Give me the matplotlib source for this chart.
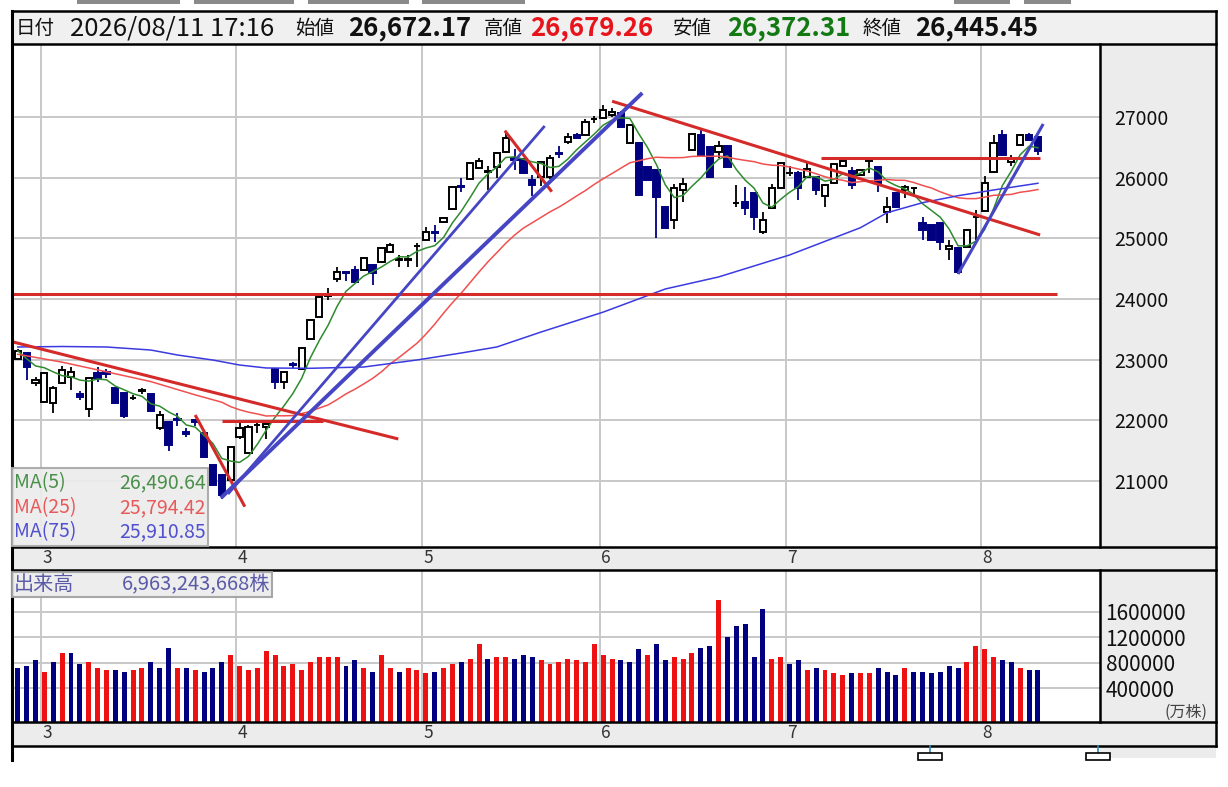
import matplotlib
matplotlib.use('Agg')
import matplotlib.pyplot as plt
from matplotlib.patches import Rectangle
from matplotlib.lines import Line2D
from matplotlib.transforms import blended_transform_factory
import pandas as pd

plt.rcParams['font.family'] = ['Noto Sans CJK JP', 'DejaVu Sans']

W, H = 1228, 787

# ---------------- data ----------------
opens = [23007, 23110, 22610, 22308, 22282, 22612, 22720, 22430, 22183, 22787,
         22790, 22530, 22447, 22365, 22485, 22435, 21870, 21979, 22020, 21810,
         22010, 21788, 21265, 21100, 21010, 21732, 21457, 21920, 21896, 22843,
         22638, 22930, 22842, 23337, 23709, 24050, 24326, 24440, 24479, 24479,
         24562, 24616, 24781, 24650, 24650, 24870, 24973, 25110, 25275, 25479,
         25870, 25974, 26165, 26099, 26181, 26428, 26330, 26300, 25962, 26016,
         26016, 26400, 26593, 26703, 26703, 26967, 26978, 27033, 27061, 26567,
         26567, 26181, 26127, 25522, 25303, 25797, 26456, 26703, 26511, 26428,
         26527, 25577, 25604, 25742, 25110, 25495, 25825, 26072, 26083, 26016,
         26016, 25699, 25918, 26193, 26110, 26045, 26280, 26181, 25440, 25742,
         25797, 25825, 25248, 25220, 25248, 24830, 24836, 24863, 25347, 25456,
         26099, 26703, 26264, 26539, 26703, 26672.17]
highs = [23180, 23130, 22720, 22800, 22560, 22897, 22885, 22480, 22720, 22880,
         22850, 22540, 22460, 22420, 22540, 22440, 22150, 21990, 22130, 21870,
         22030, 21800, 21270, 21110, 21580, 21960, 21920, 21960, 21960, 22860,
         22820, 22960, 23200, 23670, 24050, 24180, 24520, 24450, 24540, 24690,
         24580, 24850, 24920, 24720, 24720, 24920, 25190, 25220, 25360, 25870,
         25990, 26250, 26330, 26190, 26430, 26760, 26480, 26330, 26040, 26280,
         26380, 26520, 26730, 26730, 26960, 27020, 27200, 27150, 27100, 26890,
         26580, 26200, 26140, 25530, 25900, 26000, 26730, 26790, 26520, 26600,
         26540, 25880, 25850, 25750, 25440, 25900, 26250, 26190, 26110, 26260,
         26030, 25900, 26240, 26300, 26180, 26150, 26340, 26190, 25680, 25750,
         25880, 25850, 25360, 25230, 25260, 24970, 24850, 25160, 25470, 26020,
         26700, 26780, 26380, 26720, 26730, 26679.26]
lows = [22990, 22666, 22560, 22290, 22127, 22600, 22500, 22330, 22051, 22640,
        22700, 22270, 22040, 22330, 22440, 22150, 21850, 21490, 21900, 21720,
        21900, 21400, 20930, 20700, 20990, 21700, 21440, 21800, 21700, 22520,
        22510, 22870, 22830, 23320, 23700, 23980, 24280, 24300, 24280, 24460,
        24230, 24600, 24770, 24530, 24530, 24520, 24960, 24940, 25260, 25460,
        25770, 25960, 26150, 25790, 26000, 26410, 26120, 26060, 25700, 25860,
        25980, 26320, 26560, 26630, 26690, 26900, 26960, 27000, 26830, 26560,
        25700, 25950, 25001, 25170, 25150, 25600, 26440, 26370, 26000, 26330,
        26170, 25520, 25380, 25130, 25080, 25480, 25810, 26020, 25630, 26000,
        25715, 25510, 25900, 26180, 25820, 26030, 26070, 25770, 25260, 25500,
        25660, 25680, 24970, 24960, 24808, 24644, 24408, 24850, 24980, 25440,
        26080, 26360, 26200, 26520, 26600, 26372.31]
closes = [23149, 22885, 22660, 22777, 22530, 22831, 22803, 22380, 22694, 22700,
          22770, 22282, 22073, 22370, 22490, 22155, 22089, 21600, 22000, 21780,
          21980, 21403, 20935, 20770, 21561, 21870, 21896, 21928, 21935, 22629,
          22803, 22910, 23188, 23655, 24039, 24070, 24451, 24424, 24286, 24672,
          24424, 24836, 24891, 24660, 24660, 24880, 25110, 25090, 25341, 25852,
          25850, 26237, 26275, 26100, 26402, 26649, 26290, 26083, 25880, 26264,
          26320, 26386, 26676, 26649, 26923, 26970, 27116, 27088, 26841, 26868,
          25715, 25962, 25687, 25176, 25825, 25891, 26715, 26374, 26016, 26527,
          26181, 25580, 25495, 25357, 25303, 25825, 26237, 26075, 25825, 26138,
          25797, 25880, 26226, 26280, 25880, 26127, 26282, 25908, 25522, 25512,
          25852, 25827, 25138, 24973, 24946, 24875, 24451, 25138, 25350, 25918,
          26577, 26374, 26320, 26703, 26621, 26445.45]
# volume in 万株
volumes = [718, 750, 844, 655, 812, 953, 953, 781, 812, 718,
           687, 687, 655, 687, 718, 812, 718, 1032, 718, 718,
           687, 655, 718, 812, 922, 750, 687, 718, 985, 922,
           750, 781, 687, 812, 891, 891, 891, 750, 844, 718,
           655, 922, 718, 655, 718, 687, 640, 655, 718, 781,
           812, 859, 1095, 859, 891, 891, 859, 922, 891, 844,
           781, 812, 859, 844, 812, 1095, 922, 859, 844, 812,
           1016, 922, 1095, 844, 891, 859, 953, 1032, 1063, 1785,
           1204, 1377, 1408, 891, 1644, 859, 891, 781, 844, 687,
           718, 687, 640, 608, 640, 640, 640, 718, 655, 608,
           718, 655, 655, 640, 655, 750, 718, 812, 1063, 1016,
           891, 844, 812, 718, 687, 687]
volumes = [v * 1000 for v in volumes]
vol_dir = ("bbbrbrbbrr" "rbbrrbbbrb" "rbbbrrrrrr" "rrrrrrrbbr" "brrbrrrbrr"
           "brrbrrbbbr" "rrrrrrrrbb" "brbbrrrbbr" "bbbbbrrbbr" "brrrbrrbbb"
           "rbbbbbbrrr" "rbbrbb")

month_labels = ['3', '4', '5', '6', '7', '8']
month_start = [3, 25, 46, 66, 87, 109]

# MA(25) warm-up part (before 25 bars are available)
ma25_early_idx = [0, 5, 9, 15, 20, 23]
ma25_early_val = [23090, 22960, 22833, 22640, 22421, 22300]
# MA(75)
ma75_idx = [0, 5, 10, 15, 18, 22, 25, 28, 33, 39, 45, 50, 54, 59, 66, 73, 79, 87,
            95, 98, 102, 106, 110, 115]
ma75_val = [23210, 23218, 23210, 23160, 23078, 22995, 22913, 22864, 22859, 22880,
            22996, 23111, 23210, 23457, 23785, 24166, 24364, 24726, 25176, 25423,
            25588, 25703, 25797, 25908]

# drawn trend lines: (x0, p0, x1, p1)
red_lines = [(-0.65, 23297, 42.9, 21694),
             (20.0, 22089, 25.6, 20578),
             (23.0, 21995, 34.4, 21995),
             (54.9, 26775, 60.2, 25769),
             (67.0, 27260, 115.25, 25056),
             (90.6, 26320, 115.2, 26320),
             (-0.65, 24083, 117.2, 24083)]
blue_lines = [(23.7, 20787, 59.4, 26852, 2.0),
              (22.9, 20721, 70.4, 27396, 2.8),
              (106.0, 24413, 115.6, 26885, 2.2)]

header = dict(date='2026/08/11 17:16', open='26,672.17', high='26,679.26',
              low='26,372.31', close='26,445.45')
ma_legend = [('MA(5)', '26,490.64'), ('MA(25)', '25,794.42'), ('MA(75)', '25,910.85')]
volume_label = ('出来高', '6,963,243,668株')

price_ticks = [21000, 22000, 23000, 24000, 25000, 26000, 27000]
vol_ticks = [400000, 800000, 1200000, 1600000]

# ---------------- figure ----------------
fig = plt.figure(figsize=(W / 100, H / 100), dpi=100)
fig.patch.set_facecolor('white')


def fr(x0, y0, x1, y1):
    return [x0 / W, 1 - y1 / H, (x1 - x0) / W, (y1 - y0) / H]


def frect(x0, y0, x1, y1, fc, ec='none', lw=0, z=-1, alpha=1):
    r = Rectangle((x0 / W, 1 - y1 / H), (x1 - x0) / W, (y1 - y0) / H,
                  transform=fig.transFigure, facecolor=fc, edgecolor=ec,
                  linewidth=lw, zorder=z, alpha=alpha)
    fig.add_artist(r)


def fline(x0, y0, x1, y1, lw=1.6, c='black', z=6):
    fig.add_artist(Line2D([x0 / W, x1 / W], [1 - y0 / H, 1 - y1 / H],
                          transform=fig.transFigure, color=c, lw=lw, zorder=z))


def ftext(x, y, s, **kw):
    fig.text(x / W, 1 - y / H, s, **kw)


GREY = '#ececec'
# backgrounds
frect(12, 11, 1216, 44, '#f0f0f0')
frect(1100, 44, 1216, 547, GREY)
frect(12, 547, 1216, 570, GREY)
frect(1100, 570, 1216, 722, GREY)
frect(12, 722, 1216, 746, GREY)
frect(1100, 746, 1216, 758, GREY)
for x0, x1 in [(77, 180), (194, 294), (308, 409), (422, 525), (954, 1010), (1024, 1071)]:
    frect(x0, 0, x1, 3.5, '#8a8a8a', z=2)

xlim = (-0.65, 122.0)
gridc = '#c8c8c8'
grid_x = [m - 0.4 for m in month_start]

# ---------- price panel ----------
ax = fig.add_axes(fr(12, 44, 1100, 547))
ax.set_xlim(*xlim)
ax.set_ylim(19914, 28203)
for s in ax.spines.values():
    s.set_visible(False)
ax.set_xticks(grid_x)
ax.set_xticklabels([])
ax.set_yticks(price_ticks)
ax.yaxis.tick_right()
ax.tick_params(axis='y', length=0, pad=10, labelsize=14, labelcolor='#111111')
ax.tick_params(axis='x', length=0)
ax.grid(True, color=gridc, lw=1.4, zorder=0)

up_c, dn_c = 'black', '#000080'
bw = 0.7
for i in range(len(closes)):
    o, h, l, c = opens[i], highs[i], lows[i], closes[i]
    up = c >= o
    col = up_c if up else dn_c
    ax.plot([i, i], [l, h], color=col, lw=1.3, zorder=3, solid_capstyle='butt')
    lo, hi = min(o, c), max(o, c)
    ax.add_patch(Rectangle((i - bw / 2, lo), bw, max(hi - lo, 8),
                           facecolor='white' if up else dn_c, edgecolor=col,
                           lw=1.4, zorder=4))

idx = list(range(len(closes)))
cl = pd.Series(closes)
ma5 = cl.rolling(5, min_periods=1).mean()
ma25 = cl.rolling(25).mean()
ma25_x = ma25_early_idx + idx[24:]
ma25_y = ma25_early_val + list(ma25[24:])
ax.plot(idx, ma5, color='#2e8b2e', lw=1.1, zorder=5)
ax.plot(ma25_x, ma25_y, color='#f05050', lw=1.1, zorder=5)
ax.plot(ma75_idx, ma75_val, color='#3a3ae0', lw=1.1, zorder=5)

for x0, p0, x1, p1 in red_lines:
    ax.plot([x0, x1], [p0, p1], color='#d42a2a', lw=2.2, zorder=6,
            solid_capstyle='butt')
for x0, p0, x1, p1, lw in blue_lines:
    ax.plot([x0, x1], [p0, p1], color='#4646c4', lw=lw, zorder=6,
            solid_capstyle='butt')

# ---------- volume panel ----------
axv = fig.add_axes(fr(12, 570, 1100, 722))
vbot = -128600
axv.set_xlim(*xlim)
axv.set_ylim(vbot, 2255600)
for s in axv.spines.values():
    s.set_visible(False)
axv.set_xticks(grid_x)
axv.set_xticklabels([])
axv.set_yticks(vol_ticks)
axv.set_yticklabels([str(v) for v in vol_ticks])
axv.yaxis.tick_right()
axv.tick_params(axis='y', length=0, pad=4, labelsize=15, labelcolor='#111111')
axv.tick_params(axis='x', length=0)
axv.grid(True, color=gridc, lw=1.4, zorder=0)
vcols = ['#ee1111' if d == 'r' else '#000080' for d in vol_dir]
axv.bar(idx, [v - vbot for v in volumes], bottom=vbot, width=0.56,
        color=vcols, zorder=3)
ftext(1186, 712, '(万株)', fontsize=11.5, color='#444444', ha='center', va='center')

# ---------- x label strips ----------
tr = blended_transform_factory(ax.transData, fig.transFigure)
for lab, m in zip(month_labels, month_start):
    for yy in (558, 733):
        fig.text(m + 0.3, 1 - yy / H, lab, transform=tr, ha='center', va='center',
                 fontsize=12.5, color='#333333')

# ---------- header ----------
hy = 28
lab_kw = dict(fontsize=14, va='center', color='#111111')
val_kw = dict(fontsize=18.5, va='center', fontweight='bold')
ftext(16, hy, '日付', **lab_kw)
ftext(70, hy, header['date'], fontsize=18.5, va='center', color='#111111')
ftext(295, hy, '始値', **lab_kw)
ftext(348, hy, header['open'], color='#111111', **val_kw)
ftext(484, hy, '高値', **lab_kw)
ftext(530, hy, header['high'], color='#e8141c', **val_kw)
ftext(673, hy, '安値', **lab_kw)
ftext(727, hy, header['low'], color='#137a13', **val_kw)
ftext(863, hy, '終値', **lab_kw)
ftext(915, hy, header['close'], color='#111111', **val_kw)

# ---------- MA legend box ----------
frect(12, 468, 208, 546, '#ececec', ec='#a8a8a8', lw=1.5, z=7, alpha=0.92)
ma_cols = ['#4a8f4a', '#e85a5a', '#5050d0']
for k, ((name, val), c) in enumerate(zip(ma_legend, ma_cols)):
    yy = 483 + k * 24.5
    ftext(14, yy, name, fontsize=14, color=c, va='center', zorder=8)
    ftext(206, yy, val, fontsize=14, color=c, va='center', ha='right', zorder=8)

# ---------- volume label ----------
frect(12, 572, 272, 597, '#ececec', ec='#a0a0a0', lw=1.5, z=7, alpha=0.92)
ftext(14, 584.5, volume_label[0], fontsize=14.5, color='#5a5aa8', va='center', zorder=8)
ftext(270, 584.5, volume_label[1], fontsize=14.5, color='#5a5aa8', va='center',
      ha='right', zorder=8)

# ---------- frame lines ----------
for yy in (11, 44, 547, 570, 722, 746):
    fline(12, yy, 1216, yy, lw=1.8)
fline(12, 11, 12, 760, lw=2.2)
fline(1216, 11, 1216, 746, lw=1.8)
fline(1100, 44, 1100, 547, lw=1.8)
fline(1100, 570, 1100, 722, lw=1.8)
# bottom sub-panel fragments
for xc in (930, 1098):
    fline(xc, 746, xc, 753, lw=1.2, c='#2a8ab0')
    frect(xc - 12, 753, xc + 12, 760, 'white', ec='black', lw=1.2, z=6)

fig.savefig('out.png', dpi=100)
